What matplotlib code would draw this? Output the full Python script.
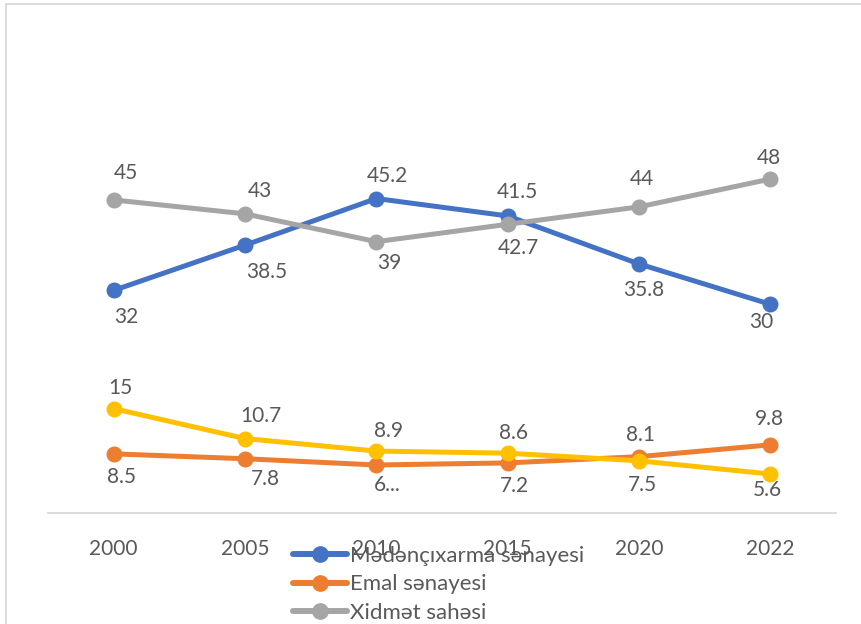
import matplotlib
matplotlib.use("Agg")
import matplotlib.pyplot as plt
from matplotlib.lines import Line2D

years = ["2000", "2005", "2010", "2015", "2020", "2022"]
mining = [32, 38.5, 45.2, 42.7, 35.8, 30]
manufacturing = [8.5, 7.8, 6.9, 7.2, 8.1, 9.8]
services = [45, 43, 39, 41.5, 44, 48]
other = [15, 10.7, 8.9, 8.6, 7.5, 5.6]

mining_labels = ["32", "38.5", "45.2", "42.7", "35.8", "30"]
manufacturing_labels = ["8.5", "7.8", "6...", "7.2", "8.1", "9.8"]
services_labels = ["45", "43", "39", "41.5", "44", "48"]
other_labels = ["15", "10.7", "8.9", "8.6", "7.5", "5.6"]

names = ["Mədənçıxarma sənayesi", "Emal sənayesi", "Xidmət sahəsi"]

FONT = ["Lato", "DejaVu Sans"]
TXT = "#595959"
plt.rcParams["font.family"] = FONT

fig = plt.figure(figsize=(8.61, 6.24), dpi=100)
W, H = 861, 624
ax = fig.add_axes([48 / W, 1 - 513 / H, (836 - 48) / W, (513 - 26) / H])

x = list(range(len(years)))
style = dict(linewidth=3.6, marker="o", markersize=10.5, solid_capstyle="round")
series = [
    (mining, "#4472C4", names[0], mining_labels,
     [(13, 27), (22, 27), (11, -23), (11, 32), (5, 26), (-9, 18)]),
    (manufacturing, "#ED7D31", names[1], manufacturing_labels,
     [(8, 23), (20, 20), (11, 20), (7, 23), (2, -22), (-1, -26)]),
    (services, "#A5A5A5", names[2], services_labels,
     [(12, -27), (15, -23), (13, 21), (10, -32), (3, -28), (-1, -21)]),
    (other, "#FFC000", None, other_labels,
     [(7, -21), (16, -23), (12, -20), (6, -20), (3, 24), (-3, 16)]),
]
handles = []
for vals, col, name, labs, offs in series:
    ln, = ax.plot(x, vals, color=col, **style)
    if name:
        handles.append((ln, name))
    for xi, v, lab, (dx, dy) in zip(x, vals, labs, offs):
        ax.annotate(lab, (xi, v), xytext=(dx, -dy), textcoords="offset pixels",
                    ha="center", va="center", fontsize=15, color=TXT)

ax.set_xlim(-0.5, len(years) - 0.5)
ax.set_ylim(0, 70)
ax.set_xticks(x)
ax.set_xticklabels(years, fontsize=15, color=TXT)
ax.tick_params(axis="x", length=0, pad=19)
ax.set_yticks([])
for s in ["top", "right", "left"]:
    ax.spines[s].set_visible(False)
ax.spines["bottom"].set_color("#D9D9D9")
ax.spines["bottom"].set_linewidth(1.3)
ax.patch.set_alpha(0)

leg = fig.legend([h for h, _ in handles], [n for _, n in handles],
                 loc="upper left", bbox_to_anchor=(293 / W, 1 - 546 / H),
                 frameon=False, fontsize=16, handlelength=2.45,
                 handletextpad=0.1, labelspacing=0.38, borderpad=0,
                 borderaxespad=0, labelcolor=TXT)
for lh in leg.get_lines():
    lh.set_linewidth(4.3)
    lh.set_markersize(11)

# chart border (partially cropped)
fig.add_artist(Line2D([6 / W, 1], [1 - 4 / H, 1 - 4 / H], color="#D9D9D9",
                      linewidth=1.3, transform=fig.transFigure))
fig.add_artist(Line2D([6 / W, 6 / W], [0, 1 - 4 / H], color="#D9D9D9",
                      linewidth=1.3, transform=fig.transFigure))

fig.savefig("out.png", dpi=100)
